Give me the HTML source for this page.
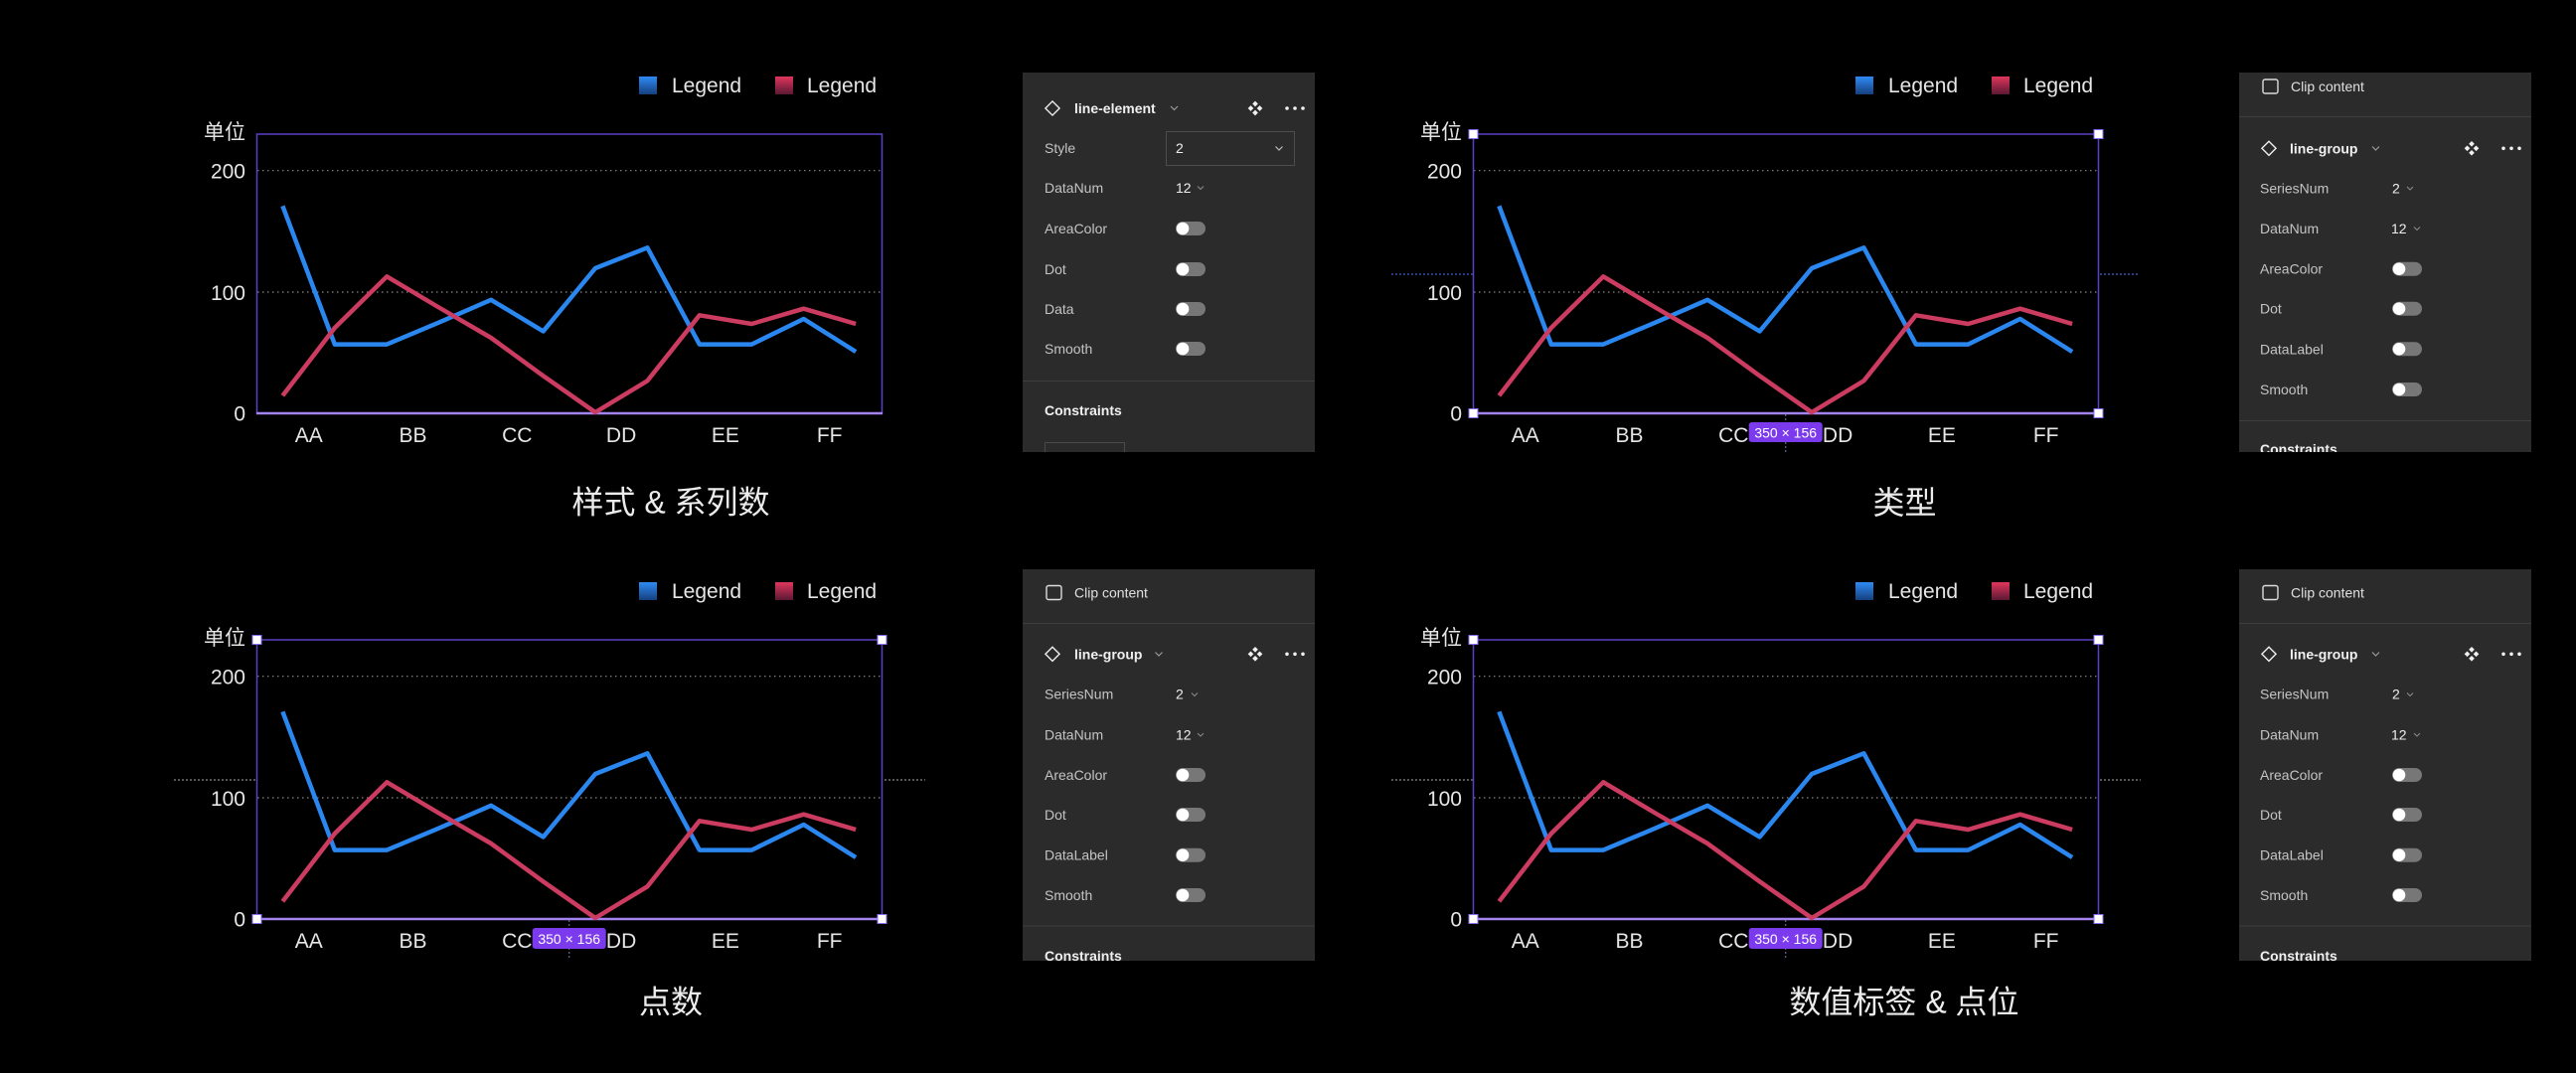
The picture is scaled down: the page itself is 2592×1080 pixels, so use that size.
<!DOCTYPE html>
<html>
<head>
<meta charset="utf-8">
<style>
html,body{margin:0;padding:0;background:#000;}
body{width:2592px;height:1080px;overflow:hidden;}
svg{display:block;}
text{font-family:"Liberation Sans","Noto Sans CJK SC",sans-serif;}
</style>
</head>
<body>
<svg width="2592" height="1080" viewBox="0 0 2592 1080" xmlns="http://www.w3.org/2000/svg">
<defs>
  <linearGradient id="gb" x1="0" y1="0" x2="0" y2="1">
    <stop offset="0" stop-color="#2f8af5"/>
    <stop offset="1" stop-color="#15407e"/>
  </linearGradient>
  <linearGradient id="gr" x1="0" y1="0" x2="0" y2="1">
    <stop offset="0" stop-color="#e0365c"/>
    <stop offset="1" stop-color="#5a1834"/>
  </linearGradient>
  <clipPath id="c1"><rect x="1029" y="73" width="294" height="382"/></clipPath>
  <clipPath id="c2"><rect x="2253" y="73" width="294" height="382"/></clipPath>
  <clipPath id="c3"><rect x="1029" y="573" width="294" height="394"/></clipPath>
  <clipPath id="c4"><rect x="2253" y="573" width="294" height="394"/></clipPath>
</defs>
<rect width="2592" height="1080" fill="#000"/>

<!-- ============ CHART 1 (top-left) ============ -->
<g>
  <rect x="643" y="77" width="18" height="18" fill="url(#gb)"/>
  <text x="676" y="93" font-size="21" fill="#e6e6e6">Legend</text>
  <rect x="780" y="77" width="18" height="18" fill="url(#gr)"/>
  <text x="812" y="93" font-size="21" fill="#e6e6e6">Legend</text>
  <text x="247" y="140" font-size="21" fill="#e6e6e6" text-anchor="end">单位</text>
  <line x1="259" y1="171.7" x2="887" y2="171.7" stroke="#8a8a8a" stroke-width="1.2" stroke-dasharray="1.5 3.5"/>
  <line x1="259" y1="294" x2="887" y2="294" stroke="#8a8a8a" stroke-width="1.2" stroke-dasharray="1.5 3.5"/>
  <text x="247" y="179.5" font-size="21" fill="#e6e6e6" text-anchor="end">200</text>
  <text x="247" y="301.8" font-size="21" fill="#e6e6e6" text-anchor="end">100</text>
  <text x="247" y="423.5" font-size="21" fill="#e6e6e6" text-anchor="end">0</text>
  <rect x="258.5" y="135" width="629" height="281" fill="none" stroke="#5a40c4" stroke-width="1.5"/>
  <line x1="258" y1="416" x2="888" y2="416" stroke="#a383f0" stroke-width="2.5"/>
  <g font-size="21" fill="#e6e6e6" text-anchor="middle">
    <text x="310.7" y="445">AA</text><text x="415.5" y="445">BB</text><text x="520.3" y="445">CC</text>
    <text x="625.1" y="445">DD</text><text x="729.9" y="445">EE</text><text x="834.7" y="445">FF</text>
  </g>
  <polyline points="284.4,207.3 336.8,346.6 389.3,346.6 441.7,324.6 494.1,301.8 546.6,333.4 599,270 651.4,249.3 703.8,346.6 756.3,346.6 808.7,321 861.1,354" fill="none" stroke="#2b87f0" stroke-width="4.5" stroke-linejoin="round"/>
  <polyline points="284.4,398.3 336.8,330 389.3,278.3 441.7,309.5 494.1,340 546.6,378.3 599,415 651.4,383.3 703.8,317.3 756.3,326 808.7,310.7 861.1,326" fill="none" stroke="#cc3b60" stroke-width="4.5" stroke-linejoin="round"/>
</g>
<text x="675" y="516.5" font-size="32" fill="#ececec" text-anchor="middle">样式 &amp; 系列数</text>

<!-- ============ CHART 2 (top-right) ============ -->
<g transform="translate(1224,0)">
  <line x1="176" y1="276" x2="258" y2="276" stroke="#3d5fd0" stroke-width="1.3" stroke-dasharray="2 2"/>
  <line x1="889" y1="276" x2="929" y2="276" stroke="#3d5fd0" stroke-width="1.3" stroke-dasharray="2 2"/>
  <rect x="643" y="77" width="18" height="18" fill="url(#gb)"/>
  <text x="676" y="93" font-size="21" fill="#e6e6e6">Legend</text>
  <rect x="780" y="77" width="18" height="18" fill="url(#gr)"/>
  <text x="812" y="93" font-size="21" fill="#e6e6e6">Legend</text>
  <text x="247" y="140" font-size="21" fill="#e6e6e6" text-anchor="end">单位</text>
  <line x1="259" y1="171.7" x2="887" y2="171.7" stroke="#8a8a8a" stroke-width="1.2" stroke-dasharray="1.5 3.5"/>
  <line x1="259" y1="294" x2="887" y2="294" stroke="#8a8a8a" stroke-width="1.2" stroke-dasharray="1.5 3.5"/>
  <text x="247" y="179.5" font-size="21" fill="#e6e6e6" text-anchor="end">200</text>
  <text x="247" y="301.8" font-size="21" fill="#e6e6e6" text-anchor="end">100</text>
  <text x="247" y="423.5" font-size="21" fill="#e6e6e6" text-anchor="end">0</text>
  <rect x="258.5" y="135" width="629" height="281" fill="none" stroke="#5a40c4" stroke-width="1.5"/>
  <line x1="258" y1="416" x2="888" y2="416" stroke="#a383f0" stroke-width="2.5"/>
  <g font-size="21" fill="#e6e6e6" text-anchor="middle">
    <text x="310.7" y="445">AA</text><text x="415.5" y="445">BB</text><text x="520.3" y="445">CC</text>
    <text x="625.1" y="445">DD</text><text x="729.9" y="445">EE</text><text x="834.7" y="445">FF</text>
  </g>
  <polyline points="284.4,207.3 336.8,346.6 389.3,346.6 441.7,324.6 494.1,301.8 546.6,333.4 599,270 651.4,249.3 703.8,346.6 756.3,346.6 808.7,321 861.1,354" fill="none" stroke="#2b87f0" stroke-width="4.5" stroke-linejoin="round"/>
  <polyline points="284.4,398.3 336.8,330 389.3,278.3 441.7,309.5 494.1,340 546.6,378.3 599,415 651.4,383.3 703.8,317.3 756.3,326 808.7,310.7 861.1,326" fill="none" stroke="#cc3b60" stroke-width="4.5" stroke-linejoin="round"/>
  <line x1="572.7" y1="417" x2="572.7" y2="456" stroke="#5a6a9a" stroke-width="1.2" stroke-dasharray="2 2"/>
  <rect x="535.7" y="425" width="74" height="20" rx="3" fill="#7c3aed"/>
  <text x="572.7" y="435.5" font-size="14" fill="#fff" text-anchor="middle" dominant-baseline="central">350 × 156</text>
  <g fill="#fff" stroke="#8a6cf0" stroke-width="1">
    <rect x="254" y="130.5" width="9" height="9"/><rect x="883" y="130.5" width="9" height="9"/>
    <rect x="254" y="411.5" width="9" height="9"/><rect x="883" y="411.5" width="9" height="9"/>
  </g>
</g>
<text x="1916.5" y="517" font-size="32" fill="#ececec" text-anchor="middle">类型</text>

<!-- ============ CHART 3 (bottom-left) ============ -->
<g transform="translate(0,509)">
  <line x1="175" y1="276" x2="258" y2="276" stroke="#8a8a8a" stroke-width="1.2" stroke-dasharray="2 2"/>
  <line x1="890" y1="276" x2="931" y2="276" stroke="#8a8a8a" stroke-width="1.2" stroke-dasharray="2 2"/>
  <rect x="643" y="77" width="18" height="18" fill="url(#gb)"/>
  <text x="676" y="93" font-size="21" fill="#e6e6e6">Legend</text>
  <rect x="780" y="77" width="18" height="18" fill="url(#gr)"/>
  <text x="812" y="93" font-size="21" fill="#e6e6e6">Legend</text>
  <text x="247" y="140" font-size="21" fill="#e6e6e6" text-anchor="end">单位</text>
  <line x1="259" y1="171.7" x2="887" y2="171.7" stroke="#8a8a8a" stroke-width="1.2" stroke-dasharray="1.5 3.5"/>
  <line x1="259" y1="294" x2="887" y2="294" stroke="#8a8a8a" stroke-width="1.2" stroke-dasharray="1.5 3.5"/>
  <text x="247" y="179.5" font-size="21" fill="#e6e6e6" text-anchor="end">200</text>
  <text x="247" y="301.8" font-size="21" fill="#e6e6e6" text-anchor="end">100</text>
  <text x="247" y="423.5" font-size="21" fill="#e6e6e6" text-anchor="end">0</text>
  <rect x="258.5" y="135" width="629" height="281" fill="none" stroke="#5a40c4" stroke-width="1.5"/>
  <line x1="258" y1="416" x2="888" y2="416" stroke="#a383f0" stroke-width="2.5"/>
  <g font-size="21" fill="#e6e6e6" text-anchor="middle">
    <text x="310.7" y="445">AA</text><text x="415.5" y="445">BB</text><text x="520.3" y="445">CC</text>
    <text x="625.1" y="445">DD</text><text x="729.9" y="445">EE</text><text x="834.7" y="445">FF</text>
  </g>
  <polyline points="284.4,207.3 336.8,346.6 389.3,346.6 441.7,324.6 494.1,301.8 546.6,333.4 599,270 651.4,249.3 703.8,346.6 756.3,346.6 808.7,321 861.1,354" fill="none" stroke="#2b87f0" stroke-width="4.5" stroke-linejoin="round"/>
  <polyline points="284.4,398.3 336.8,330 389.3,278.3 441.7,309.5 494.1,340 546.6,378.3 599,415 651.4,383.3 703.8,317.3 756.3,326 808.7,310.7 861.1,326" fill="none" stroke="#cc3b60" stroke-width="4.5" stroke-linejoin="round"/>
  <line x1="572.7" y1="417" x2="572.7" y2="456" stroke="#5a6a9a" stroke-width="1.2" stroke-dasharray="2 2"/>
  <rect x="535.7" y="425" width="74" height="21" rx="3" fill="#7c3aed"/>
  <text x="572.7" y="436" font-size="14" fill="#fff" text-anchor="middle" dominant-baseline="central">350 × 156</text>
  <g fill="#fff" stroke="#8a6cf0" stroke-width="1">
    <rect x="254" y="130.5" width="9" height="9"/><rect x="883" y="130.5" width="9" height="9"/>
    <rect x="254" y="411.5" width="9" height="9"/><rect x="883" y="411.5" width="9" height="9"/>
  </g>
</g>
<text x="675" y="1019.5" font-size="32" fill="#ececec" text-anchor="middle">点数</text>

<!-- ============ CHART 4 (bottom-right) ============ -->
<g transform="translate(1224,509)">
  <line x1="176" y1="276" x2="258" y2="276" stroke="#8a8a8a" stroke-width="1.2" stroke-dasharray="2 2"/>
  <line x1="889" y1="276" x2="930" y2="276" stroke="#8a8a8a" stroke-width="1.2" stroke-dasharray="2 2"/>
  <rect x="643" y="77" width="18" height="18" fill="url(#gb)"/>
  <text x="676" y="93" font-size="21" fill="#e6e6e6">Legend</text>
  <rect x="780" y="77" width="18" height="18" fill="url(#gr)"/>
  <text x="812" y="93" font-size="21" fill="#e6e6e6">Legend</text>
  <text x="247" y="140" font-size="21" fill="#e6e6e6" text-anchor="end">单位</text>
  <line x1="259" y1="171.7" x2="887" y2="171.7" stroke="#8a8a8a" stroke-width="1.2" stroke-dasharray="1.5 3.5"/>
  <line x1="259" y1="294" x2="887" y2="294" stroke="#8a8a8a" stroke-width="1.2" stroke-dasharray="1.5 3.5"/>
  <text x="247" y="179.5" font-size="21" fill="#e6e6e6" text-anchor="end">200</text>
  <text x="247" y="301.8" font-size="21" fill="#e6e6e6" text-anchor="end">100</text>
  <text x="247" y="423.5" font-size="21" fill="#e6e6e6" text-anchor="end">0</text>
  <rect x="258.5" y="135" width="629" height="281" fill="none" stroke="#5a40c4" stroke-width="1.5"/>
  <line x1="258" y1="416" x2="888" y2="416" stroke="#a383f0" stroke-width="2.5"/>
  <g font-size="21" fill="#e6e6e6" text-anchor="middle">
    <text x="310.7" y="445">AA</text><text x="415.5" y="445">BB</text><text x="520.3" y="445">CC</text>
    <text x="625.1" y="445">DD</text><text x="729.9" y="445">EE</text><text x="834.7" y="445">FF</text>
  </g>
  <polyline points="284.4,207.3 336.8,346.6 389.3,346.6 441.7,324.6 494.1,301.8 546.6,333.4 599,270 651.4,249.3 703.8,346.6 756.3,346.6 808.7,321 861.1,354" fill="none" stroke="#2b87f0" stroke-width="4.5" stroke-linejoin="round"/>
  <polyline points="284.4,398.3 336.8,330 389.3,278.3 441.7,309.5 494.1,340 546.6,378.3 599,415 651.4,383.3 703.8,317.3 756.3,326 808.7,310.7 861.1,326" fill="none" stroke="#cc3b60" stroke-width="4.5" stroke-linejoin="round"/>
  <line x1="572.7" y1="417" x2="572.7" y2="456" stroke="#5a6a9a" stroke-width="1.2" stroke-dasharray="2 2"/>
  <rect x="535.7" y="425" width="74" height="21" rx="3" fill="#7c3aed"/>
  <text x="572.7" y="436" font-size="14" fill="#fff" text-anchor="middle" dominant-baseline="central">350 × 156</text>
  <g fill="#fff" stroke="#8a6cf0" stroke-width="1">
    <rect x="254" y="130.5" width="9" height="9"/><rect x="883" y="130.5" width="9" height="9"/>
    <rect x="254" y="411.5" width="9" height="9"/><rect x="883" y="411.5" width="9" height="9"/>
  </g>
</g>
<text x="1916" y="1019.5" font-size="32" fill="#ececec" text-anchor="middle">数值标签 &amp; 点位</text>

<!-- ============ PANEL 1 (top-left) ============ -->
<g clip-path="url(#c1)" font-size="14">
  <rect x="1029" y="73" width="294" height="382" fill="#2b2b2b"/>
  <rect x="-5" y="-5" width="10" height="10" transform="translate(1059,109) rotate(45)" fill="none" stroke="#eee" stroke-width="1.4"/>
  <text x="1081" y="109" dominant-baseline="central" font-weight="bold" fill="#f0f0f0">line-element</text>
  <polyline points="1178,107 1181.5,110.5 1185,107" fill="none" stroke="#9a9a9a" stroke-width="1.2"/>
  <g fill="#f0f0f0">
    <rect x="-2" y="-2" width="4" height="4" transform="translate(1263,104.5) rotate(45)"/>
    <rect x="-2" y="-2" width="4" height="4" transform="translate(1267.5,109) rotate(45)"/>
    <rect x="-2" y="-2" width="4" height="4" transform="translate(1263,113.5) rotate(45)"/>
    <rect x="-2" y="-2" width="4" height="4" transform="translate(1258.5,109) rotate(45)"/>
    <circle cx="1295" cy="109" r="1.8"/><circle cx="1303" cy="109" r="1.8"/><circle cx="1311" cy="109" r="1.8"/>
  </g>
  <g fill="#c4c4c4" dominant-baseline="central">
    <text x="1051" y="149">Style</text>
    <text x="1051" y="189">DataNum</text>
    <text x="1051" y="230">AreaColor</text>
    <text x="1051" y="271">Dot</text>
    <text x="1051" y="311">Data</text>
    <text x="1051" y="351">Smooth</text>
  </g>
  <rect x="1173.5" y="132.5" width="129" height="34" fill="none" stroke="#4d4d4d" stroke-width="1"/>
  <text x="1183" y="149" dominant-baseline="central" fill="#eee">2</text>
  <polyline points="1283.5,147.5 1287,151 1290.5,147.5" fill="none" stroke="#bbb" stroke-width="1.2"/>
  <text x="1183" y="189" dominant-baseline="central" fill="#eee">12</text>
  <polyline points="1205,187.5 1208,190.5 1211,187.5" fill="none" stroke="#888" stroke-width="1.1"/>
  <g>
    <rect x="1183" y="223" width="30" height="14" rx="7" fill="#777"/><circle cx="1190" cy="230" r="6.3" fill="#fff"/>
    <rect x="1183" y="264" width="30" height="14" rx="7" fill="#777"/><circle cx="1190" cy="271" r="6.3" fill="#fff"/>
    <rect x="1183" y="304" width="30" height="14" rx="7" fill="#777"/><circle cx="1190" cy="311" r="6.3" fill="#fff"/>
    <rect x="1183" y="344" width="30" height="14" rx="7" fill="#777"/><circle cx="1190" cy="351" r="6.3" fill="#fff"/>
  </g>
  <line x1="1029" y1="383.5" x2="1323" y2="383.5" stroke="#3e3e3e" stroke-width="1"/>
  <text x="1051" y="413" dominant-baseline="central" font-weight="bold" fill="#f0f0f0">Constraints</text>
  <rect x="1051.5" y="445.5" width="80" height="20" fill="none" stroke="#4a4a4a" stroke-width="1"/>
</g>

<!-- ============ PANEL 2 (top-right) ============ -->
<g clip-path="url(#c2)" font-size="14">
  <rect x="2253" y="73" width="294" height="382" fill="#2b2b2b"/>
  <rect x="2277" y="80" width="15" height="14" rx="2" fill="none" stroke="#ddd" stroke-width="1.4"/>
  <text x="2305" y="87" dominant-baseline="central" fill="#e0e0e0">Clip content</text>
  <line x1="2253" y1="117.5" x2="2547" y2="117.5" stroke="#3e3e3e" stroke-width="1"/>
  <rect x="-5" y="-5" width="10" height="10" transform="translate(2283,149.3) rotate(45)" fill="none" stroke="#eee" stroke-width="1.4"/>
  <text x="2304" y="149.3" dominant-baseline="central" font-weight="bold" fill="#f0f0f0">line-group</text>
  <polyline points="2387,147.5 2390.5,151 2394,147.5" fill="none" stroke="#9a9a9a" stroke-width="1.2"/>
  <g fill="#f0f0f0">
    <rect x="-2" y="-2" width="4" height="4" transform="translate(2487,144.8) rotate(45)"/>
    <rect x="-2" y="-2" width="4" height="4" transform="translate(2491.5,149.3) rotate(45)"/>
    <rect x="-2" y="-2" width="4" height="4" transform="translate(2487,153.8) rotate(45)"/>
    <rect x="-2" y="-2" width="4" height="4" transform="translate(2482.5,149.3) rotate(45)"/>
    <circle cx="2519" cy="149.3" r="1.8"/><circle cx="2527" cy="149.3" r="1.8"/><circle cx="2535" cy="149.3" r="1.8"/>
  </g>
  <g fill="#c4c4c4" dominant-baseline="central">
    <text x="2274" y="189.3">SeriesNum</text>
    <text x="2274" y="230">DataNum</text>
    <text x="2274" y="270.7">AreaColor</text>
    <text x="2274" y="310.7">Dot</text>
    <text x="2274" y="351.3">DataLabel</text>
    <text x="2274" y="392">Smooth</text>
  </g>
  <text x="2407" y="189.3" dominant-baseline="central" fill="#eee">2</text>
  <polyline points="2422,188 2425,191 2428,188" fill="none" stroke="#888" stroke-width="1.1"/>
  <text x="2406" y="230" dominant-baseline="central" fill="#eee">12</text>
  <polyline points="2429,228.5 2432,231.5 2435,228.5" fill="none" stroke="#888" stroke-width="1.1"/>
  <g>
    <rect x="2407" y="263.7" width="30" height="14" rx="7" fill="#777"/><circle cx="2414" cy="270.7" r="6.3" fill="#fff"/>
    <rect x="2407" y="303.7" width="30" height="14" rx="7" fill="#777"/><circle cx="2414" cy="310.7" r="6.3" fill="#fff"/>
    <rect x="2407" y="344.3" width="30" height="14" rx="7" fill="#777"/><circle cx="2414" cy="351.3" r="6.3" fill="#fff"/>
    <rect x="2407" y="385" width="30" height="14" rx="7" fill="#777"/><circle cx="2414" cy="392" r="6.3" fill="#fff"/>
  </g>
  <line x1="2253" y1="423.5" x2="2547" y2="423.5" stroke="#3e3e3e" stroke-width="1"/>
  <text x="2274" y="452" dominant-baseline="central" font-weight="bold" fill="#f0f0f0">Constraints</text>
</g>

<!-- ============ PANEL 3 (bottom-left) ============ -->
<g clip-path="url(#c3)" font-size="14">
  <rect x="1029" y="573" width="294" height="394" fill="#2b2b2b"/>
  <rect x="1053" y="589.5" width="15" height="14" rx="2" fill="none" stroke="#ddd" stroke-width="1.4"/>
  <text x="1081" y="596.7" dominant-baseline="central" fill="#e0e0e0">Clip content</text>
  <line x1="1029" y1="627.5" x2="1323" y2="627.5" stroke="#3e3e3e" stroke-width="1"/>
  <rect x="-5" y="-5" width="10" height="10" transform="translate(1059,658.3) rotate(45)" fill="none" stroke="#eee" stroke-width="1.4"/>
  <text x="1081" y="658.3" dominant-baseline="central" font-weight="bold" fill="#f0f0f0">line-group</text>
  <polyline points="1162.5,656.5 1166,660 1169.5,656.5" fill="none" stroke="#9a9a9a" stroke-width="1.2"/>
  <g fill="#f0f0f0">
    <rect x="-2" y="-2" width="4" height="4" transform="translate(1263,653.8) rotate(45)"/>
    <rect x="-2" y="-2" width="4" height="4" transform="translate(1267.5,658.3) rotate(45)"/>
    <rect x="-2" y="-2" width="4" height="4" transform="translate(1263,662.8) rotate(45)"/>
    <rect x="-2" y="-2" width="4" height="4" transform="translate(1258.5,658.3) rotate(45)"/>
    <circle cx="1295" cy="658.3" r="1.8"/><circle cx="1303" cy="658.3" r="1.8"/><circle cx="1311" cy="658.3" r="1.8"/>
  </g>
  <g fill="#c4c4c4" dominant-baseline="central">
    <text x="1051" y="698.7">SeriesNum</text>
    <text x="1051" y="739.3">DataNum</text>
    <text x="1051" y="780">AreaColor</text>
    <text x="1051" y="820">Dot</text>
    <text x="1051" y="860.7">DataLabel</text>
    <text x="1051" y="901">Smooth</text>
  </g>
  <text x="1183" y="698.7" dominant-baseline="central" fill="#eee">2</text>
  <polyline points="1199,697.5 1202,700.5 1205,697.5" fill="none" stroke="#888" stroke-width="1.1"/>
  <text x="1183" y="739.3" dominant-baseline="central" fill="#eee">12</text>
  <polyline points="1205,738 1208,741 1211,738" fill="none" stroke="#888" stroke-width="1.1"/>
  <g>
    <rect x="1183" y="773" width="30" height="14" rx="7" fill="#777"/><circle cx="1190" cy="780" r="6.3" fill="#fff"/>
    <rect x="1183" y="813" width="30" height="14" rx="7" fill="#777"/><circle cx="1190" cy="820" r="6.3" fill="#fff"/>
    <rect x="1183" y="853.7" width="30" height="14" rx="7" fill="#777"/><circle cx="1190" cy="860.7" r="6.3" fill="#fff"/>
    <rect x="1183" y="894" width="30" height="14" rx="7" fill="#777"/><circle cx="1190" cy="901" r="6.3" fill="#fff"/>
  </g>
  <line x1="1029" y1="932" x2="1323" y2="932" stroke="#3e3e3e" stroke-width="1"/>
  <text x="1051" y="962" dominant-baseline="central" font-weight="bold" fill="#f0f0f0">Constraints</text>
</g>

<!-- ============ PANEL 4 (bottom-right) ============ -->
<g clip-path="url(#c4)" font-size="14">
  <rect x="2253" y="573" width="294" height="394" fill="#2b2b2b"/>
  <rect x="2277" y="589.5" width="15" height="14" rx="2" fill="none" stroke="#ddd" stroke-width="1.4"/>
  <text x="2305" y="596.7" dominant-baseline="central" fill="#e0e0e0">Clip content</text>
  <line x1="2253" y1="627.5" x2="2547" y2="627.5" stroke="#3e3e3e" stroke-width="1"/>
  <rect x="-5" y="-5" width="10" height="10" transform="translate(2283,658.3) rotate(45)" fill="none" stroke="#eee" stroke-width="1.4"/>
  <text x="2304" y="658.3" dominant-baseline="central" font-weight="bold" fill="#f0f0f0">line-group</text>
  <polyline points="2387,656.5 2390.5,660 2394,656.5" fill="none" stroke="#9a9a9a" stroke-width="1.2"/>
  <g fill="#f0f0f0">
    <rect x="-2" y="-2" width="4" height="4" transform="translate(2487,653.8) rotate(45)"/>
    <rect x="-2" y="-2" width="4" height="4" transform="translate(2491.5,658.3) rotate(45)"/>
    <rect x="-2" y="-2" width="4" height="4" transform="translate(2487,662.8) rotate(45)"/>
    <rect x="-2" y="-2" width="4" height="4" transform="translate(2482.5,658.3) rotate(45)"/>
    <circle cx="2519" cy="658.3" r="1.8"/><circle cx="2527" cy="658.3" r="1.8"/><circle cx="2535" cy="658.3" r="1.8"/>
  </g>
  <g fill="#c4c4c4" dominant-baseline="central">
    <text x="2274" y="698.7">SeriesNum</text>
    <text x="2274" y="739.3">DataNum</text>
    <text x="2274" y="780">AreaColor</text>
    <text x="2274" y="820">Dot</text>
    <text x="2274" y="860.7">DataLabel</text>
    <text x="2274" y="901">Smooth</text>
  </g>
  <text x="2407" y="698.7" dominant-baseline="central" fill="#eee">2</text>
  <polyline points="2422,697.5 2425,700.5 2428,697.5" fill="none" stroke="#888" stroke-width="1.1"/>
  <text x="2406" y="739.3" dominant-baseline="central" fill="#eee">12</text>
  <polyline points="2429,738 2432,741 2435,738" fill="none" stroke="#888" stroke-width="1.1"/>
  <g>
    <rect x="2407" y="773" width="30" height="14" rx="7" fill="#777"/><circle cx="2414" cy="780" r="6.3" fill="#fff"/>
    <rect x="2407" y="813" width="30" height="14" rx="7" fill="#777"/><circle cx="2414" cy="820" r="6.3" fill="#fff"/>
    <rect x="2407" y="853.7" width="30" height="14" rx="7" fill="#777"/><circle cx="2414" cy="860.7" r="6.3" fill="#fff"/>
    <rect x="2407" y="894" width="30" height="14" rx="7" fill="#777"/><circle cx="2414" cy="901" r="6.3" fill="#fff"/>
  </g>
  <line x1="2253" y1="932" x2="2547" y2="932" stroke="#3e3e3e" stroke-width="1"/>
  <text x="2274" y="962" dominant-baseline="central" font-weight="bold" fill="#f0f0f0">Constraints</text>
</g>
</svg>
</body>
</html>
